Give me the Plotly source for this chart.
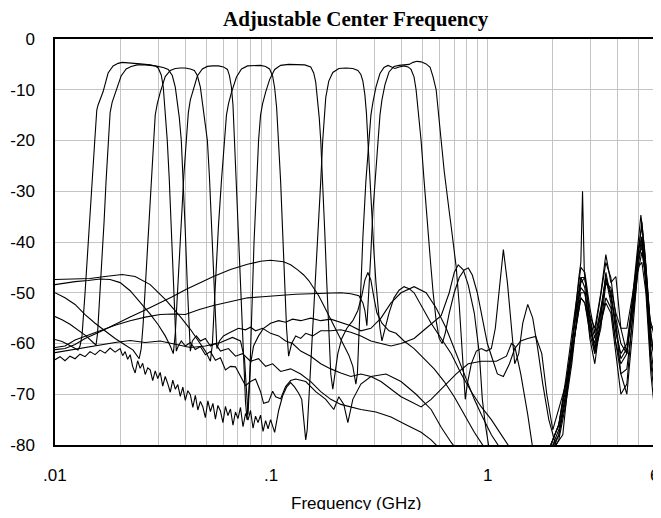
import math
import plotly.graph_objects as go

# ---------------- data (frequency in GHz, response in dB) ----------------
spur_freq = [1.760, 1.958, 2.132, 2.297, 2.449, 2.583, 2.696, 2.813, 2.967, 3.128, 3.336,
             3.518, 3.711, 3.914, 4.128, 4.401, 4.691, 4.948, 5.164, 5.389, 5.683, 6.0]

f1_freq = [0.01000, 0.01078, 0.01148, 0.01225, 0.01277, 0.01305,
           0.01333, 0.01377, 0.01421, 0.01483, 0.01527, 0.01560, 0.01582, 0.01668, 0.01760, 0.01856, 0.01958, 0.02043,
           0.02225, 0.02476, 0.02755, 0.02906,
           0.03000, 0.03098, 0.03165, 0.03233, 0.03303, 0.03375, 0.03448, 0.03522, 0.03579, 0.03637,
           0.03715, 0.03836, 0.04003, 0.04223, 0.04454, 0.04698, 0.04956, 0.05228, 0.05515, 0.05817,
           0.06136, 0.06473, 0.06828, 0.07202, 0.07597, 0.08014, 0.08453, 0.08917, 0.09208, 0.09713,
           0.1014, 0.1047, 0.1104, 0.1164, 0.1228, 0.1296, 0.1442, 0.1604,
           0.1785, 0.1944, 0.2051, 0.2163, 0.2258, 0.2381, 0.2594, 0.2886, 0.3388, 0.3977,
           0.4668, 0.5479, 0.6097, 0.6785, 0.7550, 1.582]
f1_db = [-59.2, -59.6, -60.2, -60.8, -61.3, -60.5,
         -58.5, -50, -40.2, -28, -20, -14, -13, -10.4, -6.7, -5.3, -4.8, -4.6,
         -4.7, -4.9, -5.1, -5.3,
         -5.7, -7.1, -9.4, -14, -20, -27.7, -37.6, -49.4, -57.3, -61.5,
         -60.5, -59.5, -60.5, -59.8, -61.2, -60.6, -62.2, -61.6, -63.3, -62.8,
         -65.2, -64.5, -64.6, -66.5, -68.3, -67.5, -67.0, -69.5, -71.8, -71.5,
         -69.4, -70.5, -70.9, -68.5, -67.3, -67, -67.5, -69.5,
         -71, -73, -70.5, -72, -75.6, -71, -68, -66.5, -66, -67.5,
         -70, -73, -76.5, -79.5, -82, -84]
f1_spur = [-84, -82, -78, -71, -63, -55, -50, -50, -56, -61, -56, -51, -53, -60, -66, -65, -55, -46, -42, -47, -61, -69]

f2_freq = [0.01000, 0.01078, 0.01173, 0.01277, 0.01392, 0.01500, 0.01548,
           0.01573, 0.01616, 0.01651, 0.01686, 0.01722, 0.01760, 0.01798, 0.01837, 0.01916, 0.02021, 0.02133, 0.02249, 0.02398,
           0.02612, 0.02906, 0.03165, 0.03339,
           0.03485, 0.03598, 0.03676, 0.03755, 0.03836, 0.03919, 0.04003, 0.04089, 0.04156, 0.04223,
           0.04314, 0.04502, 0.04698, 0.04956, 0.05228, 0.05515, 0.05817, 0.06337, 0.06828, 0.07357,
           0.08014, 0.08729, 0.09406, 0.1014, 0.1104, 0.1228, 0.1367, 0.1521, 0.1692, 0.1883,
           0.2095, 0.2331, 0.2594, 0.3045, 0.3574, 0.4195, 0.4924, 0.5479, 0.6097, 1.582]
f2_db = [-54.7, -55.3, -56.2, -57.3, -58.5, -59.8, -60.3,
         -58, -50, -43, -36, -28, -20, -14.5, -12.5, -10, -7.3, -5.9, -5.4, -5.1,
         -5.1, -5.3, -5.6, -6.0,
         -7.2, -9.5, -12.5, -15.5, -20, -28, -38, -48.5, -56, -61.5,
         -59.5, -58.5, -59.5, -59, -60.5, -60, -61.5, -61, -62.5, -62,
         -63.5, -63, -64.5, -64, -65.5, -65, -66, -67.5, -69.5, -71,
         -72, -72.5, -73, -73.5, -74.5, -76, -77.5, -79, -81, -84]
f2_spur = [-84, -80, -76, -68, -60, -53, -48, -47, -55, -62, -57, -48, -50, -57, -63, -61, -53, -44, -39, -46, -58, -66]

f3_freq = [0.01000, 0.01112, 0.01238, 0.01377, 0.01532, 0.01704, 0.01896, 0.02110, 0.02297, 0.02450,
           0.02503, 0.02557, 0.02640, 0.02726, 0.02799, 0.02860, 0.02906, 0.02969, 0.03065, 0.03233, 0.03411, 0.03598, 0.03795,
           0.04003, 0.04223, 0.04407,
           0.04550, 0.04698, 0.04799, 0.04930, 0.05063, 0.05173, 0.05284, 0.05399, 0.05515, 0.05604,
           0.05755, 0.06007, 0.06337, 0.06684, 0.07050, 0.07597, 0.08014, 0.08453, 0.09109, 0.09922,
           0.1081, 0.1164, 0.1254, 0.1367, 0.1521, 0.1692, 0.1883, 0.2095, 0.2331, 0.2594,
           0.2886, 0.3212, 0.3574, 0.3977, 0.4425, 0.4924, 0.5479, 0.6097, 0.7157, 0.8136,
           0.9349, 1.097, 1.221, 1.288, 1.334, 1.422, 1.532, 1.633]
f3_db = [-50, -51, -52.3, -54.3, -56, -57.5, -59, -60.3, -61.3, -63,
         -61, -56, -45, -35, -27, -20, -15, -12.8, -10.5, -7.4, -6.2, -5.8, -5.7,
         -5.7, -5.9, -6.2,
         -7.2, -9.5, -12.5, -16, -20, -27, -36, -46, -55, -61,
         -59.5, -58.5, -58, -57.5, -57, -57.3, -56.8, -57.5, -57, -58,
         -58.5, -59.5, -60, -61.5, -62.5, -64, -65, -65.8, -66.5, -66,
         -66.5, -67.5, -69, -70.5, -71.5, -72.5, -71, -69, -66, -64,
         -63.5, -63.5, -62.5, -60, -60.5, -66, -74, -82]
f3_spur = [-84, -82, -79, -72, -64, -55, -47, -49, -59, -64, -55, -46, -51, -56, -66, -70, -57, -45, -40, -48, -64, -73]

f4_freq = [0.01000, 0.01112, 0.01238, 0.01421, 0.01616, 0.01798, 0.02000, 0.02225, 0.02476, 0.02755, 0.03000, 0.03233, 0.03411, 0.03522,
           0.03598, 0.03676, 0.03755, 0.03836, 0.03939, 0.04046, 0.04134, 0.04223, 0.04360, 0.04550, 0.04799, 0.05063, 0.05341,
           0.05694, 0.06007, 0.06268,
           0.06404, 0.06542, 0.06648, 0.06756, 0.06901, 0.07050, 0.07202, 0.07357, 0.07477, 0.07597, 0.07719,
           0.07845, 0.08014, 0.08275, 0.08729, 0.09208, 0.09922, 0.1081, 0.1164, 0.1254, 0.1367,
           0.1521, 0.1692, 0.1883, 0.2095, 0.2331, 0.2594, 0.2886, 0.3212, 0.3574, 0.3977,
           0.4570, 0.5194, 0.5780, 0.6432, 0.7157, 0.7964, 0.8675, 0.9349, 1.040, 1.157]
f4_db = [-48.4, -48.1, -47.8, -47.6, -47.3, -47.4, -48, -49.6, -51.8, -54.2, -56.3, -58.5, -60.5, -62,
         -58, -50, -42, -35, -27, -20, -14.5, -12, -9.8, -7.3, -5.9, -5.4, -5.3,
         -5.3, -5.5, -6,
         -7.2, -9.5, -13, -20, -28, -38, -48, -58, -65, -71.5, -75,
         -70, -64, -60.5, -58.5, -57, -56, -55.5, -55.8, -55.2, -55.5,
         -55, -55.5, -55.2, -55.8, -56.5, -57.5, -57, -55, -52, -50,
         -48.8, -50, -53, -57, -62, -67, -71, -74, -78, -81]
f4_spur = [-83, -81, -78, -70, -61, -52, -47, -47, -55, -59, -53, -47, -52, -60, -64, -62, -52, -42, -39, -49, -63, -70]

f5_freq = [0.01000, 0.01173, 0.01452, 0.01704, 0.02043, 0.02347, 0.02755, 0.03233, 0.03795, 0.04223, 0.04599, 0.04956, 0.05228,
           0.05341, 0.05457, 0.05574, 0.05694, 0.05879, 0.06071, 0.06202, 0.06337, 0.06542, 0.06901, 0.07279, 0.07761, 0.08275,
           0.08917, 0.09406, 0.09817,
           0.1014, 0.1036, 0.1058, 0.1081, 0.1104, 0.1128, 0.1152, 0.1176, 0.1202,
           0.1241, 0.1296, 0.1367, 0.1442, 0.1554, 0.1692, 0.1883, 0.2095, 0.2331, 0.2594,
           0.2886, 0.3212, 0.3574, 0.3977, 0.4570, 0.5194, 0.6097, 0.6642, 0.7006, 0.7311,
           0.7713, 0.8136, 0.8675, 0.9152, 0.9449, 0.9757, 1.018]
f5_db = [-47.4, -47.3, -47.2, -46.8, -46.4, -46.8, -48.4, -51.3, -54.7, -57.2, -59.5, -61.5, -63.5,
         -60, -52, -44, -37, -28, -20, -15, -12.8, -10.5, -7.5, -5.9, -5.3, -5.2,
         -5.2, -5.4, -5.9,
         -7.3, -9.6, -13.5, -20, -28, -38, -48, -57, -62.5,
         -60, -58.5, -59, -58, -58.5, -57.5, -57.5, -57.3, -57.8, -58.5,
         -59.5, -60, -60.5, -60, -59, -57, -54.5, -50, -46, -44.5,
         -45.5, -48.5, -54, -62, -71, -76, -81]
f5_spur = [-83, -81, -77, -70, -62, -56, -51, -52, -58, -62, -56, -52, -54, -62, -70, -68, -54, -45, -44, -50, -66, -76]

f6_freq = [0.01000, 0.01173, 0.01377, 0.01616, 0.01896, 0.02225, 0.02612, 0.03065, 0.03598, 0.04223,
           0.04956, 0.05817, 0.06612, 0.07202, 0.07516, 0.07678, 0.07803,
           0.07929, 0.08057, 0.08187, 0.08319, 0.08544, 0.08729, 0.08917, 0.09109, 0.09406, 0.09817, 0.1036, 0.1104, 0.1202,
           0.1310, 0.1427, 0.1521,
           0.1570, 0.1604, 0.1639, 0.1665, 0.1692, 0.1728, 0.1766, 0.1804, 0.1843, 0.1883, 0.1924,
           0.1965, 0.2029, 0.2117, 0.2234, 0.2381, 0.2512, 0.2622, 0.2707, 0.2795, 0.2886,
           0.2981, 0.3078, 0.3246, 0.3499, 0.3770, 0.4107, 0.4570, 0.5085, 0.5658, 0.6296,
           0.7006, 0.7796, 0.8675, 0.9654]
f6_db = [-61.8, -61.3, -60.8, -60.2, -59.8, -59.4, -59.8, -59.5, -60.2, -60.8,
         -60.5, -59.8, -58.8, -59.5, -63, -69, -74,
         -68, -58, -48, -40, -29, -20, -15, -12.8, -10.5, -8, -6, -5.2, -5.0,
         -5.0, -5.1, -5.5,
         -6.7, -8.5, -12, -15.5, -20, -28, -38, -48, -58, -66, -69,
         -66, -62, -59, -57, -55.5, -53.5, -50.5, -47.5, -46, -47.5,
         -51, -54, -56, -57.5, -58, -59.5, -61, -63, -65, -67.5,
         -70.5, -74, -77.5, -80.5]
f6_spur = [-84, -80, -76, -67, -58, -50, -45, -46, -53, -58, -50, -44, -47, -55, -60, -62, -52, -42, -37, -45, -60, -63]

f7_freq = [0.01000, 0.01055, 0.01112, 0.01173, 0.01238, 0.01305, 0.01377, 0.01452, 0.01532, 0.01616,
           0.01704, 0.01798, 0.01896,
           0.02000, 0.02054, 0.02110, 0.02167, 0.02225, 0.02285, 0.02347, 0.02410, 0.02476, 0.02543,
           0.02612, 0.02683, 0.02755, 0.02829, 0.02906, 0.02985, 0.03065, 0.03148, 0.03233, 0.03320,
           0.03411, 0.03503, 0.03598, 0.03695, 0.03795, 0.03898, 0.04003, 0.04111, 0.04223, 0.04337,
           0.04454, 0.04574, 0.04698, 0.04825, 0.04956, 0.05090, 0.05228, 0.05369, 0.05515, 0.05664,
           0.05817, 0.05974, 0.06136, 0.06302, 0.06473, 0.06648, 0.06828, 0.07012, 0.07202, 0.07397,
           0.07597, 0.07802, 0.08014, 0.08231, 0.08453, 0.08681, 0.08917, 0.09158, 0.09406, 0.09660,
           0.09922,
           0.1036, 0.1081, 0.1128, 0.1176, 0.1228, 0.1282, 0.1338, 0.1382, 0.1412, 0.1442,
           0.1465, 0.1505, 0.1554, 0.1604, 0.1656, 0.1692, 0.1728, 0.1757, 0.1785, 0.1843, 0.1924, 0.2051, 0.2210,
           0.2381, 0.2512, 0.2594,
           0.2650, 0.2707, 0.2751, 0.2795, 0.2855, 0.2917, 0.2981, 0.3045, 0.3111, 0.3178, 0.3246,
           0.3352, 0.3499, 0.3690, 0.3893, 0.4107, 0.4332, 0.4570, 0.4924, 0.5479, 0.6097,
           0.6785, 0.7550, 0.8401, 0.9349, 1.040, 1.157, 1.288]
f7_db = [-63.2, -62.6, -63.4, -62.5, -63.0, -62.1, -62.6, -61.6, -62.2, -61.3,
         -61.9, -60.9, -61.7,
         -61.0, -62.4, -61.6, -63.1, -62.2, -64.5, -65.8, -63.4, -64.9, -63.9,
         -66.1, -64.8, -65.2, -67.3, -65.4, -66.9, -65.7, -68.4, -66.5, -67.9,
         -69.6, -67.2, -69.0, -68.1, -70.4, -68.6, -71.2, -69.3, -70.1, -72.6,
         -70.2, -73.1, -71.4, -72.5, -74.6, -71.3, -73.4, -71.8, -74.9, -72.2,
         -73.3, -75.6, -72.4, -74.2, -72.9, -76.1, -73.5, -74.8, -72.6, -76.4,
         -73.8, -75.1, -73.2, -76.7, -74.3, -75.6, -74.1, -77.3, -75.2, -76.8,
         -75.0,
         -77.5, -73.2, -70.3, -68.6, -67.7, -68.6, -69.8, -71, -75, -79,
         -77, -68, -58, -47, -36, -28, -20, -14.5, -11.5, -8.3, -6.6, -5.8, -5.7,
         -5.8, -6.2, -7,
         -8.3, -11, -14.5, -20, -28, -36, -42, -48, -53, -57, -59.5,
         -57, -54, -51, -49.5, -48.8, -49.2, -50, -52.5, -56, -59,
         -62, -66, -69.5, -72.5, -75, -78, -81]
f7_spur = [-83, -80, -76, -69, -60, -53, -49, -50, -57, -61, -54, -47, -50, -58, -62, -60, -51, -43, -36, -45, -58, -65]

f8_freq = [0.01000, 0.01112, 0.01238, 0.01377, 0.01616, 0.01896, 0.02225, 0.02612, 0.03065, 0.03485,
           0.04003, 0.04698, 0.05399, 0.06473, 0.07761, 0.08917, 0.09922, 0.1139, 0.1228, 0.1324,
           0.1412, 0.1489, 0.1570, 0.1656, 0.1747, 0.1843, 0.1944, 0.2051, 0.2163, 0.2282,
           0.2381, 0.2459,
           0.2499, 0.2539, 0.2594, 0.2650, 0.2736, 0.2825, 0.2886, 0.2948, 0.3045, 0.3178, 0.3317, 0.3461,
           0.3612, 0.3730, 0.3893, 0.4107, 0.4285, 0.4425,
           0.4570, 0.4668, 0.4769, 0.4924, 0.5085, 0.5250, 0.5421, 0.5597, 0.5780, 0.5968, 0.6162,
           0.6364, 0.6642, 0.7006, 0.7391, 0.7796, 0.8136, 0.8491, 0.8957, 0.9449, 0.9968,
           1.051, 1.109, 1.182, 1.261, 1.334, 1.422, 1.532, 1.668, 1.779, 1.876, 2.000,
           2.132, 2.297, 2.449, 2.583, 2.696, 2.813, 2.967, 3.128, 3.336, 3.518,
           3.711, 3.914, 4.128, 4.401, 4.691, 4.948, 5.164, 5.389, 5.683, 6.0]
f8_db = [-61.2, -61, -60.2, -59, -57.7, -56.2, -54.8, -53.4, -52, -50.8,
         -49.4, -48, -46.8, -45.4, -44.4, -43.8, -43.6, -43.9, -44.5, -45.5,
         -46.5, -47.6, -49, -50.6, -52.5, -54.5, -56.5, -58.4, -60.3, -62.3,
         -64.5, -68,
         -66, -58, -48, -39, -28, -20, -15, -12.5, -9.5, -6.8, -5.6, -5.2,
         -5.5, -5.8, -5.5, -5.3, -5.5, -6,
         -7.5, -10, -14, -20, -28, -36, -43, -50, -55.5, -59, -60,
         -58, -54, -50, -47, -45.5, -45.1, -46.5, -50, -55, -60,
         -63, -66, -66.5, -64, -61, -59.5, -59, -58.6, -62, -70, -77,
         -73, -68, -62, -56, -51, -52, -57, -60, -53, -48,
         -49, -54, -57, -57, -50, -43, -41, -47, -57, -56]

f9_freq = [0.01000, 0.01112, 0.01238, 0.01407, 0.01616, 0.01896, 0.02225, 0.02612, 0.03065, 0.03485,
           0.04003, 0.04648, 0.05399, 0.06473, 0.07761, 0.09109, 0.1104, 0.1296, 0.1521, 0.1785,
           0.2095, 0.2331, 0.2539, 0.2650, 0.2707, 0.2765,
           0.2825, 0.2886, 0.2948, 0.3029, 0.3111, 0.3178, 0.3246, 0.3352, 0.3499, 0.3690, 0.3893, 0.4107,
           0.4332, 0.4520, 0.4718, 0.4924, 0.5194, 0.5421,
           0.5597, 0.5780, 0.5937, 0.6097, 0.6296, 0.6432, 0.6642, 0.6785, 0.7006, 0.7157, 0.7391, 0.7550, 0.7713, 0.7880,
           0.8049, 0.8401, 0.8862, 0.9349, 0.9862, 1.040, 1.085, 1.133, 1.182, 1.234,
           1.288, 1.334, 1.392, 1.453, 1.532, 1.616, 1.704, 1.798, 1.917, 2.065,
           2.225, 2.372, 2.529, 2.639, 2.696, 2.745, 2.798, 2.936, 3.128, 3.336,
           3.518, 3.711, 3.914, 4.128, 4.401, 4.691, 4.948, 5.109, 5.332, 5.623, 6.0]
f9_db = [-60.8, -60.5, -59.3, -58.4, -57.5, -56.4, -55.5, -54.8, -54.3, -54.2,
         -54.3, -53.3, -52.5, -51.7, -51, -50.8, -50.5, -50.3, -50.2, -50.1,
         -50, -50.2, -50.6, -52, -53.5, -56.5,
         -50, -42, -34, -27, -20, -15, -12, -9, -6.5, -5.4, -5.2, -5.1,
         -5, -4.6, -4.4, -4.5, -4.9, -5.6,
         -7.5, -10, -14.5, -20, -26, -29.7, -34, -37, -41.5, -45, -52.5, -59, -66, -71,
         -68, -64, -61.5, -61, -61.5, -61, -57, -49, -41.5, -48,
         -57, -64, -62, -56, -52.3, -55, -61, -68, -75, -80,
         -78, -66, -55, -47, -44, -30, -46, -54, -57, -50,
         -42.5, -48, -46.8, -57, -62, -50, -40, -34.7, -42, -55, -60]

y_ticks = [0, -10, -20, -30, -40, -50, -60, -70, -80]
y_tick_labels = ["0", "-10", "-20", "-30", "-40", "-50", "-60", "-70", "-80"]
x_grid_vals = [0.01, 0.02, 0.03, 0.04, 0.05, 0.06, 0.07, 0.08, 0.09,
               0.1, 0.2, 0.3, 0.4, 0.5, 0.6, 0.7, 0.8, 0.9,
               1, 2, 3, 4, 5, 6]
x_label_vals = [0.01, 0.1, 1, 6]
x_label_text = [".01", ".1", "1", "6"]

# ---------------- assemble series ----------------
series = [
    (f1_freq + spur_freq, f1_db + f1_spur),
    (f2_freq + spur_freq, f2_db + f2_spur),
    (f3_freq + spur_freq, f3_db + f3_spur),
    (f4_freq + spur_freq, f4_db + f4_spur),
    (f5_freq + spur_freq, f5_db + f5_spur),
    (f6_freq + spur_freq, f6_db + f6_spur),
    (f7_freq + spur_freq, f7_db + f7_spur),
    (f8_freq, f8_db),
    (f9_freq, f9_db),
]

fig = go.Figure()
for i, (fx, fy) in enumerate(series):
    assert len(fx) == len(fy), (i, len(fx), len(fy))
    fig.add_trace(go.Scatter(x=fx, y=fy, mode="lines",
                             line=dict(color="black", width=1.1),
                             showlegend=False, hoverinfo="skip"))

label_font = dict(family="Liberation Sans, Arial, sans-serif", size=17, color="black")

x_min = -2.0
x_max = math.log10(6) + 0.00002

annotations = [dict(text="<b>Adjustable Center Frequency</b>",
                    font=dict(family="Liberation Serif, Times New Roman, serif", size=21, color="black"),
                    xref="paper", yref="paper", x=0.5, y=1 + 20 / 406, borderpad=0,
                    xanchor="center", yanchor="middle", showarrow=False),
               dict(text="Frequency (GHz)", font=label_font,
                    xref="paper", yref="paper", x=0.5, y=-0.144,
                    xanchor="center", yanchor="middle", showarrow=False)]
for v, t in zip(x_label_vals, x_label_text):
    frac = (math.log10(v) - x_min) / (x_max - x_min)
    annotations.append(dict(text=t, font=label_font, xref="paper", yref="paper",
                            x=frac, y=-0.076, xanchor="center", yanchor="middle",
                            xshift=-1 if t == "6" else 0, showarrow=False))

# The page body adds an 8 px margin on every side: the figure is shrunk so that the
# page (8 + figure + 8) never overflows the 661x518 window, and margins compensate.
fig.update_layout(
    width=653, height=502,
    margin=dict(l=47, r=5, t=31, b=65, autoexpand=False),
    paper_bgcolor="white", plot_bgcolor="white",
    xaxis=dict(type="log", range=[x_min, x_max], automargin=False,
               tickmode="array", tickvals=x_grid_vals, showticklabels=False,
               showgrid=True, gridcolor="#c4c4c4", gridwidth=1,
               showline=True, mirror=True, linecolor="black", linewidth=1.5,
               ticks="", zeroline=False),
    yaxis=dict(range=[-80, 0], automargin=False,
               tickmode="array", tickvals=y_ticks, ticktext=y_tick_labels,
               showgrid=True, gridcolor="#c4c4c4", gridwidth=1,
               showline=True, mirror=True, linecolor="black", linewidth=1.5,
               ticks="outside", ticklen=15, tickcolor="rgba(0,0,0,0)",
               tickfont=label_font, zeroline=False, ticklabeloverflow="allow"),
    annotations=annotations,
)

fig.write_html("out.html")
